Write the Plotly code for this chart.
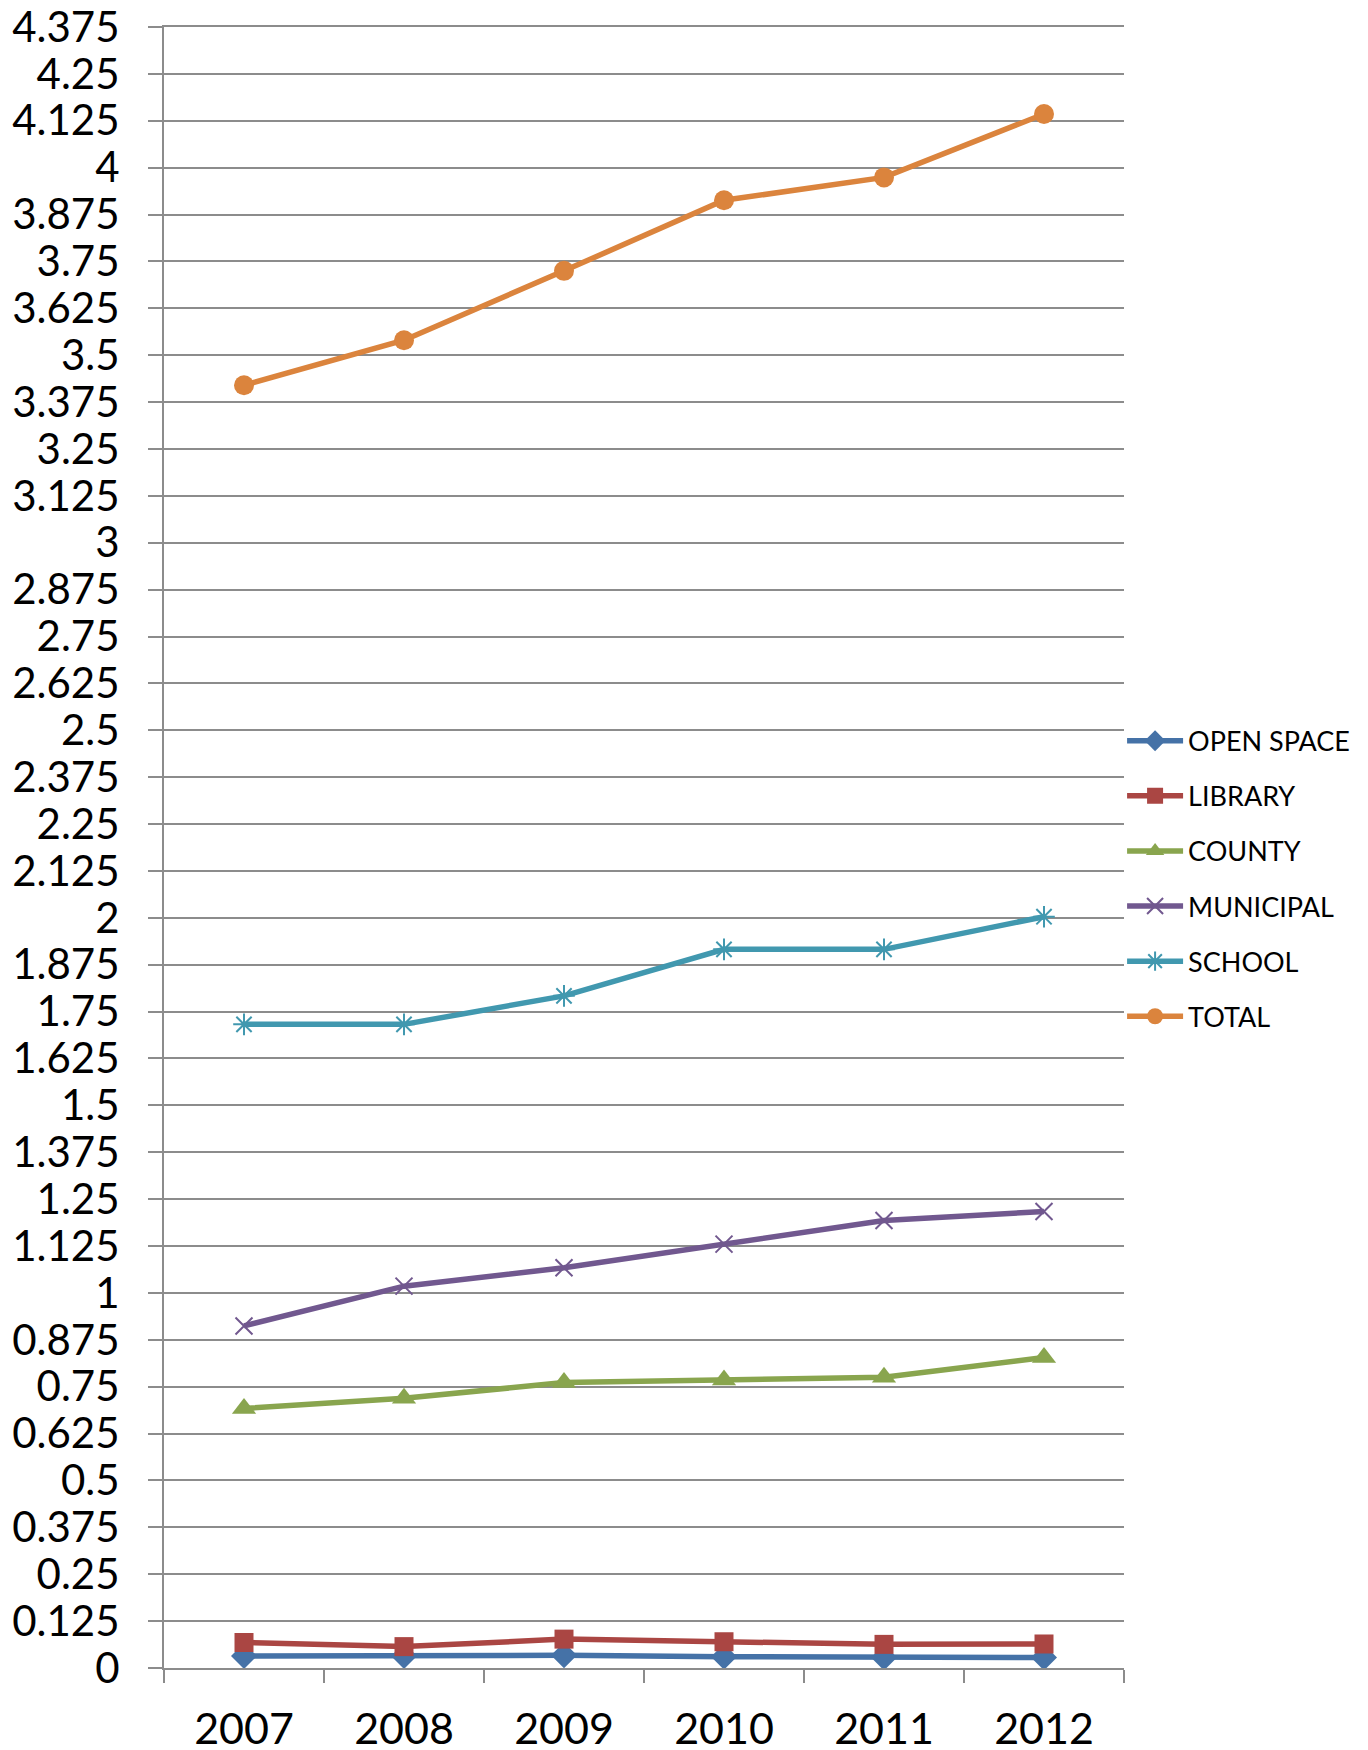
import plotly.graph_objects as go

years = ["2007", "2008", "2009", "2010", "2011", "2012"]
open_space = [0.032, 0.032, 0.034, 0.030, 0.028, 0.028]
library = [0.068, 0.057, 0.077, 0.070, 0.063, 0.064]
county = [0.692, 0.719, 0.761, 0.768, 0.775, 0.828]
municipal = [0.912, 1.018, 1.067, 1.130, 1.193, 1.217]
school = [1.716, 1.716, 1.792, 1.916, 1.916, 2.003]
total = [3.420, 3.540, 3.725, 3.913, 3.974, 4.143]

y_tick_vals = [0, 0.125, 0.25, 0.375, 0.5, 0.625, 0.75, 0.875, 1, 1.125, 1.25, 1.375,
               1.5, 1.625, 1.75, 1.875, 2, 2.125, 2.25, 2.375, 2.5, 2.625, 2.75, 2.875,
               3, 3.125, 3.25, 3.375, 3.5, 3.625, 3.75, 3.875, 4, 4.125, 4.25, 4.375]
y_tick_text = ["0", "0.125", "0.25", "0.375", "0.5", "0.625", "0.75", "0.875", "1",
               "1.125", "1.25", "1.375", "1.5", "1.625", "1.75", "1.875", "2", "2.125",
               "2.25", "2.375", "2.5", "2.625", "2.75", "2.875", "3", "3.125", "3.25",
               "3.375", "3.5", "3.625", "3.75", "3.875", "4", "4.125", "4.25", "4.375"]

series = [
    ("OPEN SPACE", open_space, "#4572A7", "diamond", 20, None),
    ("LIBRARY", library, "#AA4643", "square", 19, None),
    ("COUNTY", county, "#89A54E", "triangle-up", 21, None),
    ("MUNICIPAL", municipal, "#71588F", "x-thin", 17, 2),
    ("SCHOOL", school, "#4198AF", "asterisk", 18, 2),
    ("TOTAL", total, "#DB843D", "circle", 20, None),
]

FONT = "Lato, Calibri, Carlito, 'Open Sans', sans-serif"

fig = go.Figure()
for i, (name, vals, color, sym, size, lw) in enumerate(series):
    marker = dict(symbol=sym, size=size, color=color)
    if lw:
        marker["line"] = dict(color=color, width=lw)
    else:
        marker["line"] = dict(width=0)
    fig.add_trace(go.Scatter(
        x=years, y=vals, name=name, mode="lines+markers",
        line=dict(color=color, width=5.5),
        marker=marker, legendgroup=f"g{i}",
    ))

grid_col = "#8c8c8c"
fig.update_layout(
    width=1368, height=1750,
    margin=dict(l=156, r=252, t=19, b=90, autoexpand=False),
    paper_bgcolor="white", plot_bgcolor="white",
    font=dict(family=FONT, color="black"),
    showlegend=True,
    legend=dict(
        x=0.998, xanchor="left", y=0.481, yanchor="middle",
        font=dict(size=27, family=FONT, color="black"),
        traceorder="grouped", tracegroupgap=17,
        itemwidth=56, bgcolor="rgba(0,0,0,0)",
    ),
    xaxis=dict(
        type="category", range=[-0.5, 5.5], automargin=False,
        showgrid=False, showline=True, mirror=True,
        linecolor=grid_col, linewidth=2,
        ticks="outside", tickson="boundaries", ticklen=13, tickwidth=2,
        tickcolor=grid_col, tickfont=dict(size=43, family=FONT, color="black"),
        ticklabelstandoff=22,
    ),
    yaxis=dict(
        range=[0, 4.375], tickvals=y_tick_vals, ticktext=y_tick_text,
        automargin=False, ticklabeloverflow="allow",
        showgrid=True, gridcolor=grid_col, gridwidth=2,
        showline=True, linecolor=grid_col, linewidth=2,
        ticks="outside", ticklen=14, tickwidth=2, tickcolor=grid_col,
        tickfont=dict(size=42, family=FONT, color="black"),
        ticklabelstandoff=20, zeroline=False,
    ),
)

fig.write_html("out.html")
